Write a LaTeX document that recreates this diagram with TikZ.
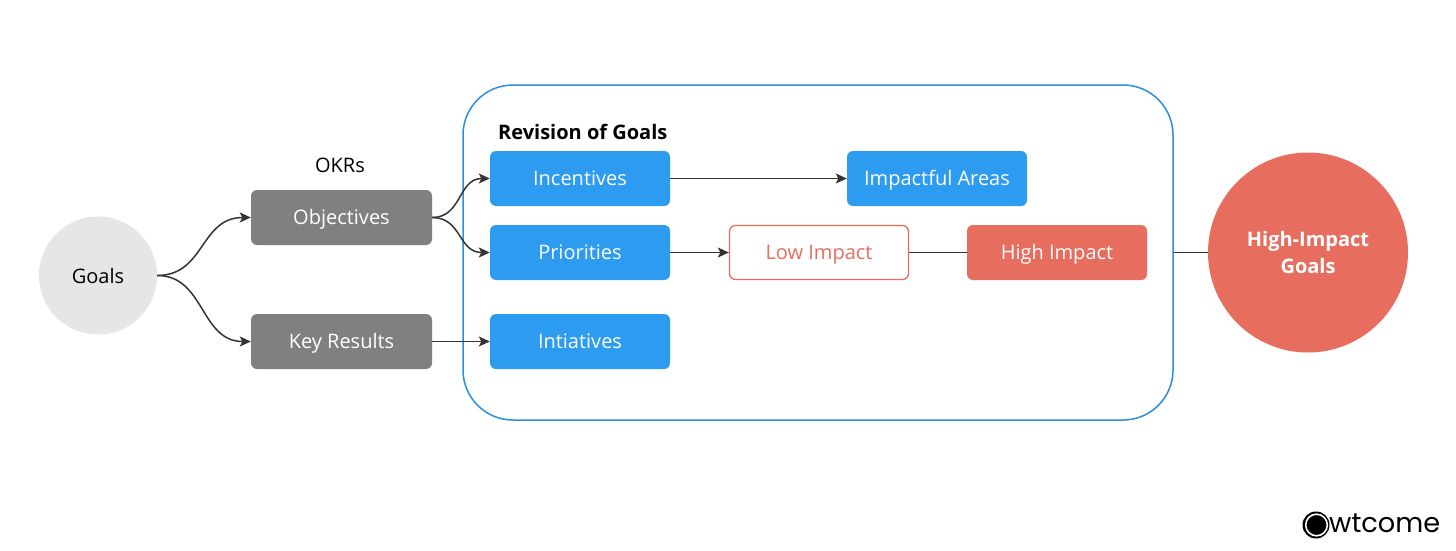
\documentclass[tikz,border=0pt]{standalone}
\usepackage{fontspec}
\setmainfont{Open Sans}
\newfontfamily\logofont{Poppins}
\usetikzlibrary{arrows.meta}
\definecolor{boxgray}{HTML}{808080}
\definecolor{boxblue}{HTML}{2D9BF0}
\definecolor{frameblue}{HTML}{2B8FE0}
\definecolor{impred}{HTML}{E76D5F}
\definecolor{circgray}{HTML}{E6E6E6}
\definecolor{linedark}{HTML}{333333}
\begin{document}
\begin{tikzpicture}[x=1pt,y=-1pt,
  every node/.style={inner sep=0pt, font=\fontsize{20}{24}\selectfont},
  boxbase/.style={rectangle, rounded corners=6pt, text height=14.3pt, text depth=0pt, minimum height=55pt},
  okrbox/.style={boxbase, fill=boxgray, text=white, minimum width=181pt},
  bluebox/.style={boxbase, fill=boxblue, text=white, minimum width=180pt},
  redbox/.style={boxbase, fill=impred, text=white, minimum width=180pt},
  lowbox/.style={boxbase, fill=white, draw=impred, line width=1.3pt, text=impred, minimum width=179pt, minimum height=54pt},
  conn/.style={draw=linedark, line width=1.5pt, -{Stealth[length=11pt,width=10pt,inset=2.5pt]}},
  plain/.style={draw=linedark, line width=1.5pt}
]
\useasboundingbox (0,0) rectangle (1456,551);
\fill[white] (0,0) rectangle (1456,551);

% container
\node[draw=frameblue, line width=1.5pt, rounded corners=50pt, minimum width=710pt, minimum height=335pt] (frame) at (818,252.5) {};
\node[anchor=west, font=\fontsize{20}{24}\selectfont\bfseries] (rev) at (498,132) {Revision of Goals};

% left side
\node[circle, fill=circgray, minimum size=118pt] (goals) at (98,275.5) {Goals};
\node (okrs) at (340,165) {OKRs};
\node[okrbox] (obj) at (341.5,217.5) {Objectives};
\node[okrbox] (kr) at (341.5,341.5) {Key Results};

% inside
\node[bluebox] (inc) at (580,178.5) {Incentives};
\node[bluebox] (pri) at (580,252.5) {Priorities};
\node[bluebox] (ini) at (580,341.5) {Intiatives};
\node[bluebox] (area) at (937,178.5) {Impactful Areas};
\node[lowbox] (low) at (819,252.5) {Low Impact};
\node[redbox] (high) at (1057,252.5) {High Impact};

% right circle
\node[circle, fill=impred, text=white, minimum size=200pt, align=center, font=\fontsize{20}{27}\selectfont\bfseries] (hig) at (1308,252.5) {High-Impact\\Goals};

% connectors
\draw[conn] (goals.east) .. controls (205,275.5) and (200,217.5) .. (obj.west);
\draw[conn] (goals.east) .. controls (205,275.5) and (200,341.5) .. (kr.west);
\draw[conn] (obj.east) .. controls (462,217.5) and (458,178.5) .. (inc.west);
\draw[conn] (obj.east) .. controls (462,217.5) and (458,252.5) .. (pri.west);
\draw[conn] (kr.east) -- (ini.west);
\draw[conn] (inc.east) -- (area.west);
\draw[conn] (pri.east) -- (low.west);
\draw[plain] (low.east) -- (high.west);
\draw[plain] (frame.east) -- (hig.west);

% logo
\fill[black] (1316,525) circle (13.5pt);
\draw[white, line width=1.6pt] (1316.5,525) circle (10.8pt);
\node[anchor=west, inner sep=0pt, font=\logofont\fontsize{31}{31}\selectfont] (logo) at (1329,523) {\resizebox{111pt}{!}{wtcome}};
\end{tikzpicture}
\end{document}
